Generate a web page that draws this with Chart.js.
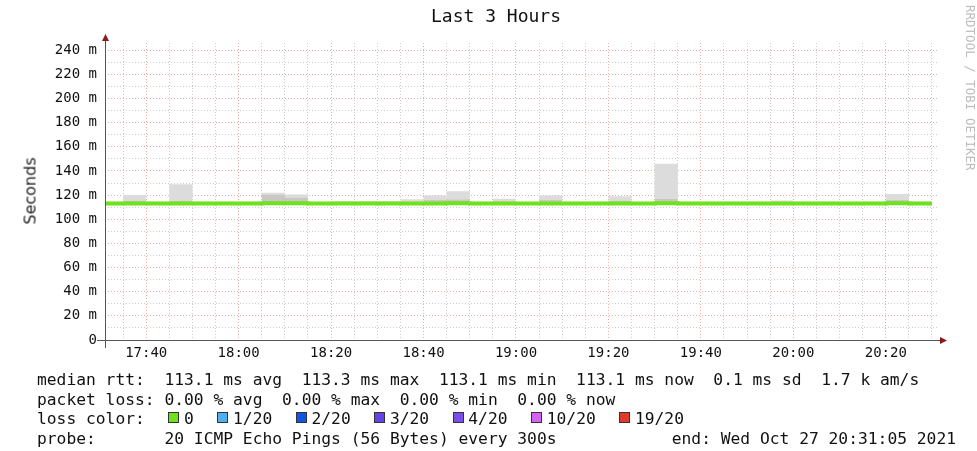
<!DOCTYPE html>
<html>
<head>
<meta charset="utf-8">
<script src="https://cdn.jsdelivr.net/npm/chart.js@4.4.0/dist/chart.umd.min.js"></script>
<style>
  html, body { margin: 0; padding: 0; background: #fff; }
  #wrap { position: relative; width: 977px; height: 451px; overflow: hidden; font-family: 'DejaVu Sans Mono', monospace; color: #111; }
  #chart { position: absolute; left: 0; top: 0; }
  #title { position: absolute; left: 0; top: 5px; width: 992px; text-align: center; font-size: 18px; }
  #ylabel { position: absolute; left: 30px; top: 191px; font-family: 'DejaVu Sans', sans-serif; font-size: 16px; color: #222; transform: translate(-50%, -50%) rotate(-90deg); white-space: nowrap; }
  #credit { position: absolute; left: 978px; top: 5px; font-size: 12.5px; color: #bdbdbd; transform-origin: 0 0; transform: rotate(90deg); white-space: nowrap; }
  #legend { position: absolute; left: 37px; top: 370px; font-size: 16.3px; line-height: 19.5px; white-space: pre; }
  .slot { display: inline-block; width: 2ch; height: 1px; position: relative; }
  .box { position: absolute; left: 4px; top: -11px; width: 11px; height: 11px; border: 1px solid #333; box-sizing: border-box; }
  #end { position: absolute; right: 21px; top: 428.5px; font-size: 16.3px; line-height: 19.5px; white-space: pre; }
</style>
</head>
<body>
<div id="wrap">
  <canvas id="chart" width="977" height="451"></canvas>
  <div id="title">Last 3 Hours</div>
  <div id="ylabel">Seconds</div>
  <div id="credit">RRDTOOL / TOBI OETIKER</div>
  <div id="legend"></div>
  <div id="end">end: Wed Oct 27 20:31:05 2021</div>
</div>
<script>
// time in minutes since midnight
const startMin = 17 * 60 + 31 + 5 / 60;   // 17:31:05
const endMin = 20 * 60 + 31 + 5 / 60;     // 20:31:05
const firstBinMin = 17 * 60 + 30;         // bins of 5 minutes from 17:30
const binMinutes = 5;

// median rtt per 5 min bin (ms)
const medianRtt = [
  113.1, 113.1, 113.1, 113.1, 113.1, 113.1, 113.1, 113.2, 113.2, 113.1,
  113.1, 113.1, 113.1, 113.1, 113.1, 113.2, 113.1, 113.1, 113.1, 113.1,
  113.1, 113.1, 113.1, 113.1, 113.3, 113.1, 113.1, 113.1, 113.1, 113.1,
  113.1, 113.1, 113.1, 113.1, 113.2, 113.1
];
// denser part of the smoke (ms)
const smokeMid = [
  113.8, 115.5, 113.8, 115.5, 113.8, 113.8, 113.8, 120.5, 118.0, 113.1,
  114.0, 114.0, 114.0, 114.5, 116.0, 116.5, 113.8, 115.0, 113.1, 116.0,
  113.8, 113.8, 115.5, 113.1, 117.0, 113.8, 113.8, 113.8, 113.8, 114.5,
  113.8, 113.8, 113.1, 113.8, 116.0, 113.8
];
// highest ping per bin (top of smoke, ms)
const smokeMax = [
  114.5, 120.0, 114.5, 129.0, 114.5, 114.5, 114.5, 122.0, 120.5, 113.1,
  115.0, 115.0, 115.0, 116.5, 119.7, 123.3, 114.5, 117.0, 113.1, 119.7,
  114.5, 114.5, 119.0, 113.1, 146.0, 114.5, 114.5, 114.5, 114.5, 115.5,
  114.5, 114.5, 113.1, 114.5, 121.0, 114.5
];
const yTicks = [0, 10, 20, 30, 40, 50, 60, 70, 80, 90, 100, 110, 120, 130, 140, 150, 160, 170, 180, 190, 200, 210, 220, 230, 240];

const statLines = [
  'median rtt:  113.1 ms avg  113.3 ms max  113.1 ms min  113.1 ms now  0.1 ms sd  1.7 k am/s',
  'packet loss: 0.00 % avg  0.00 % max  0.00 % min  0.00 % now'
];
const lossLabels = ['0', '1/20', '2/20', '3/20', '4/20', '10/20', '19/20'];
const lossColors = ['#6ee21c', '#4fb0ee', '#0f56e6', '#6444e8', '#7a4ee8', '#d462f2', '#e0392e'];
const probeText = '20 ICMP Echo Pings (56 Bytes) every 300s';

// legend text
let html = statLines.join('\n') + '\nloss color:  ';
lossLabels.forEach((lab, i) => {
  html += '<span class="slot"><span class="box" style="background:' + lossColors[i] + '"></span></span>' + lab + (i < lossLabels.length - 1 ? '  ' : '');
});
html += '\nprobe:       ' + probeText;
document.getElementById('legend').innerHTML = html;

// stepped points: one at each bin start, plus closing point
function stepPoints(values) {
  const pts = values.map((v, i) => ({ x: firstBinMin + i * binMinutes, y: v }));
  pts.push({ x: firstBinMin + values.length * binMinutes, y: values[values.length - 1] });
  return pts;
}

function isMajorX(v) { return Math.round(v) % 20 === 0; }
function fmtTime(v) {
  const m = Math.round(v);
  return Math.floor(m / 60) + ':' + String(m % 60).padStart(2, '0');
}

const axisPlugin = {
  id: 'axisArrows',
  afterDraw(chart) {
    const { ctx, chartArea } = chart;
    const x0 = chartArea.left, y0 = chartArea.bottom;
    ctx.save();
    ctx.strokeStyle = '#555';
    ctx.lineWidth = 1;
    ctx.beginPath();
    ctx.moveTo(x0 + 0.5, y0 + 8);
    ctx.lineTo(x0 + 0.5, chartArea.top - 4);
    ctx.moveTo(x0 - 8, y0 + 0.5);
    ctx.lineTo(chartArea.right + 4, y0 + 0.5);
    ctx.stroke();
    ctx.fillStyle = '#8b1a1a';
    ctx.beginPath();
    ctx.moveTo(x0 + 0.5, chartArea.top - 9);
    ctx.lineTo(x0 - 3, chartArea.top - 2);
    ctx.lineTo(x0 + 4, chartArea.top - 2);
    ctx.closePath();
    ctx.fill();
    ctx.beginPath();
    ctx.moveTo(chartArea.right + 10, y0 + 0.5);
    ctx.lineTo(chartArea.right + 3, y0 - 3);
    ctx.lineTo(chartArea.right + 3, y0 + 4);
    ctx.closePath();
    ctx.fill();
    ctx.restore();
  }
};

const chart = new Chart(document.getElementById('chart'), {
  type: 'line',
  data: {
    datasets: [{
      label: 'median rtt',
      data: stepPoints(medianRtt),
      stepped: 'before',
      borderColor: '#6ee21c',
      borderWidth: 4,
      pointRadius: 0,
      fill: false
    }, {
      label: 'smoke mid',
      data: stepPoints(smokeMid),
      stepped: 'before',
      borderColor: 'rgba(0,0,0,0)',
      borderWidth: 0,
      backgroundColor: '#c9c6c6',
      pointRadius: 0,
      fill: 0
    }, {
      label: 'smoke',
      data: stepPoints(smokeMax),
      stepped: 'before',
      borderColor: 'rgba(0,0,0,0)',
      borderWidth: 0,
      backgroundColor: '#dcdcdc',
      pointRadius: 0,
      fill: 1
    }]
  },
  options: {
    responsive: false,
    animation: false,
    events: [],
    layout: { padding: { left: 0, right: 40, top: 43, bottom: 86 } },
    plugins: { legend: { display: false }, tooltip: { enabled: false } },
    scales: {
      x: {
        type: 'linear',
        min: startMin,
        max: endMin,
        afterBuildTicks(scale) {
          const t = [];
          for (let m = 17 * 60 + 35; m <= endMin; m += 5) t.push({ value: m });
          scale.ticks = t;
        },
        afterFit(scale) { scale.height = 25; },
        grid: {
          drawTicks: false,
          color: (c) => c.tick && isMajorX(c.tick.value) ? 'rgba(232,140,140,0.75)' : 'rgba(200,200,200,0.9)',
          lineWidth: 1
        },
        border: { display: false, dash: [1, 2] },
        ticks: {
          autoSkip: false,
          maxRotation: 0,
          padding: 5,
          color: '#111',
          font: { family: 'DejaVu Sans Mono', size: 14 },
          callback: (v) => isMajorX(v) ? fmtTime(v) : ''
        }
      },
      y: {
        min: 0,
        max: 246,
        afterBuildTicks(scale) { scale.ticks = yTicks.map(v => ({ value: v })); },
        afterFit(scale) { scale.width = 105; },
        grid: {
          drawTicks: false,
          color: (c) => c.tick && c.tick.value % 20 === 0 ? 'rgba(232,140,140,0.75)' : 'rgba(200,200,200,0.9)',
          lineWidth: 1
        },
        border: { display: false, dash: [1, 2] },
        ticks: {
          autoSkip: false,
          padding: 8,
          color: '#111',
          font: { family: 'DejaVu Sans Mono', size: 14 },
          callback: (v) => v % 20 !== 0 ? '' : (v === 0 ? '0' : v + ' m')
        }
      }
    }
  },
  plugins: [axisPlugin]
});
</script>
</body>
</html>
